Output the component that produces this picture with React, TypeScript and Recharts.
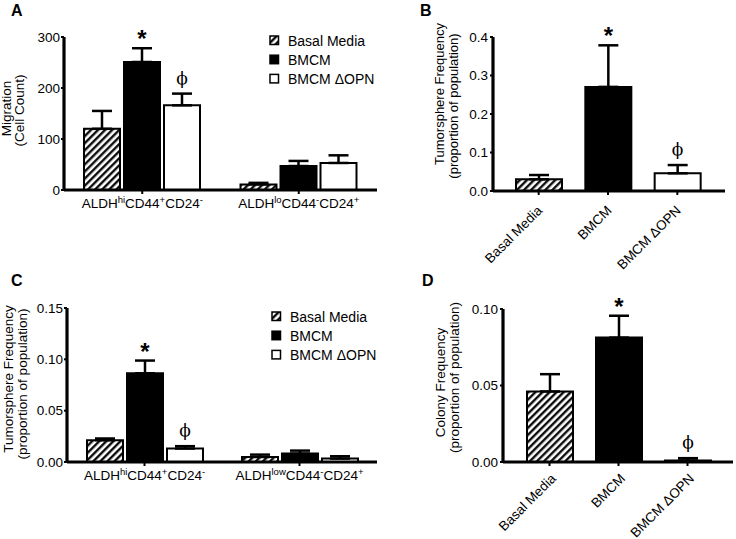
import React from 'react';
import { BarChart, Bar, XAxis, YAxis, ErrorBar, LabelList, Legend, Cell } from 'recharts';

const sans = '"Liberation Sans", Arial, Helvetica, sans-serif';
const serif = '"DejaVu Serif", "Liberation Serif", serif';

const seriesNames = ['Basal Media', 'BMCM', 'BMCM ΔOPN'];

// A: migration by sub-population
const migrationGroups = [
  [['ALDH', 'hi'], ['CD44', '+'], ['CD24', '-']],
  [['ALDH', 'lo'], ['CD44', '-'], ['CD24', '+']],
];
const migrationBasal = [120, 11];
const migrationBasalErr = [35, 3];
const migrationBmcm = [251, 47];
const migrationBmcmErr = [27, 10];
const migrationBmcmMarks = ['*', ''];
const migrationDopn = [166, 53];
const migrationDopnErr = [23, 15];
const migrationDopnMarks = ['ϕ', ''];
const migrationTicks = [0, 100, 200, 300];

// B: tumorsphere frequency, whole population
const treatments = ['Basal Media', 'BMCM', 'BMCM ΔOPN'];
const sphereTotal = [0.0303, 0.2704, 0.0459];
const sphereTotalErr = [0.0112, 0.108, 0.0215];
const sphereTotalMarks = ['', '*', 'ϕ'];
const sphereTotalTicks = [0, 0.1, 0.2, 0.3, 0.4];

// C: tumorsphere frequency by sub-population
const sphereGroups = [
  [['ALDH', 'hi'], ['CD44', '+'], ['CD24', '-']],
  [['ALDH', 'low'], ['CD44', '-'], ['CD24', '+']],
];
const sphereBasal = [0.0212, 0.0049];
const sphereBasalErr = [0.0017, 0.0023];
const sphereBmcm = [0.0864, 0.0082];
const sphereBmcmErr = [0.0124, 0.0029];
const sphereBmcmMarks = ['*', ''];
const sphereDopn = [0.0131, 0.0033];
const sphereDopnErr = [0.0023, 0.0023];
const sphereDopnMarks = ['ϕ', ''];
const sphereTicks = [0, 0.05, 0.1, 0.15];

// D: colony frequency
const colony = [0.0461, 0.0813, 0.001];
const colonyErr = [0.0113, 0.0143, 0.0015];
const colonyMarks = ['', '*', 'ϕ'];
const colonyTicks = [0, 0.05, 0.1];

const fillsFor = (hatch: string) => [`url(#${hatch})`, '#000', '#fff'];

const migrationRows = migrationGroups.map((_, i) => ({
  key: 'g' + i,
  basal: migrationBasal[i],
  basalErr: [0, migrationBasalErr[i]],
  bmcm: migrationBmcm[i],
  bmcmErr: [0, migrationBmcmErr[i]],
  dopn: migrationDopn[i],
  dopnErr: [0, migrationDopnErr[i]],
}));

const sphereRows = sphereGroups.map((_, i) => ({
  key: 'g' + i,
  basal: sphereBasal[i],
  basalErr: [0, sphereBasalErr[i]],
  bmcm: sphereBmcm[i],
  bmcmErr: [0, sphereBmcmErr[i]],
  dopn: sphereDopn[i],
  dopnErr: [0, sphereDopnErr[i]],
}));

const sphereTotalRows = treatments.map((name, i) => ({
  name,
  value: sphereTotal[i],
  err: [0, sphereTotalErr[i]],
}));

const colonyRows = treatments.map((name, i) => ({
  name,
  value: colony[i],
  err: [0, colonyErr[i]],
}));

function Hatch({ id }: { id: string }) {
  return (
    <defs>
      <pattern id={id} patternUnits="userSpaceOnUse" width={5} height={5} patternTransform="rotate(45)">
        <rect width={5} height={5} fill="#fff" />
        <line x1={1.25} y1={0} x2={1.25} y2={5} stroke="#000" strokeWidth={2.3} />
      </pattern>
    </defs>
  );
}

// star / phi drawn just above the top of the error bar
function markLabel(values: number[], errs: number[], marks: string[]) {
  return (props: any) => {
    const vb = props.viewBox || props;
    const i = props.index;
    const m = marks[i];
    if (!m) return null;
    const unit = vb.height / values[i];
    const top = vb.y - errs[i] * unit;
    const star = m === '*';
    return (
      <text
        x={vb.x + vb.width / 2}
        y={star ? top - 1 : top - 10}
        textAnchor="middle"
        fontFamily={star ? sans : serif}
        fontWeight={star ? 700 : 400}
        fontSize={star ? 24 : 17}
        fill="#000"
      >
        {m}
      </text>
    );
  };
}

function groupTick(groups: string[][][]) {
  return (props: any) => {
    const { x, y, payload } = props;
    const segs = groups[payload.index] || [];
    return (
      <text x={x} y={y + 12} textAnchor="middle" fontSize={13.5} fontFamily={sans} fill="#000" stroke="none">
        {segs.flatMap(([base, sup], i) => [
          <tspan key={'b' + i} dy={i === 0 ? 0 : 5}>{base}</tspan>,
          <tspan key={'s' + i} dy={-5} fontSize={9.5}>{sup}</tspan>,
        ])}
      </text>
    );
  };
}

function slantTick(shiftX: number, shiftY: number) {
  return (props: any) => {
    const { x, y, payload } = props;
    const ox = x + shiftX;
    const oy = y + shiftY;
    return (
      <text
        x={ox}
        y={oy}
        dy="0.35em"
        transform={`rotate(-45, ${ox}, ${oy})`}
        textAnchor="end"
        fontSize={13.5}
        fontFamily={sans}
        fill="#000"
        stroke="none"
      >
        {payload.value}
      </text>
    );
  };
}

function yTitle(lines: string[], xs: number[], dys: number[], size: number) {
  return (props: any) => {
    const vb = props.viewBox;
    return (
      <g>
        {lines.map((t, i) => {
          const cx = vb.x + xs[i];
          const cy = vb.y + vb.height / 2 + dys[i];
          return (
            <text
              key={i}
              x={cx}
              y={cy}
              transform={`rotate(-90, ${cx}, ${cy})`}
              textAnchor="middle"
              dominantBaseline="central"
              fontSize={size}
              fontFamily={sans}
              fill="#000"
              stroke="none"
            >
              {t}
            </text>
          );
        })}
      </g>
    );
  };
}

function legendBox(hatch: string) {
  const fills = fillsFor(hatch);
  return () => (
    <svg width={110} height={60} style={{ display: 'block', overflow: 'visible' }}>
      {seriesNames.map((n, i) => (
        <g key={n}>
          <rect x={1} y={i * 19.2 + 1} width={8.5} height={8.5} fill={fills[i]} stroke="#000" strokeWidth={1.5} />
          <text x={19} y={i * 19.2 + 10.5} fontSize={14} fontFamily={sans} fill="#000">
            {n}
          </text>
        </g>
      ))}
    </svg>
  );
}

const axisLine = { stroke: '#000', strokeWidth: 3.2 };
const tickLine = { stroke: '#000', strokeWidth: 2 };
const yTick = { fontSize: 13.5, fontFamily: sans, fill: '#000', stroke: 'none' };

function GroupedPanel(props: {
  rows: any[];
  groups: string[][][];
  hatch: string;
  height: number;
  top: number;
  bottom: number;
  yWidth: number;
  domain: [number, number];
  ticks: number[];
  fmt: (v: number) => string;
  title: any;
  legendPos: { left: number; top: number };
  bmcm: [number[], number[], string[]];
  dopn: [number[], number[], string[]];
}) {
  const fills = fillsFor(props.hatch);
  return (
    <BarChart
      width={380}
      height={props.height}
      data={props.rows}
      margin={{ top: props.top, right: 3, bottom: props.bottom, left: 0 }}
      barSize={36}
      barGap={4}
    >
      <Hatch id={props.hatch} />
      <XAxis
        dataKey="key"
        height={30}
        stroke="#000"
        strokeWidth={3.2}
        axisLine={axisLine}
        tickLine={tickLine}
        tickSize={4}
        tick={groupTick(props.groups)}
        interval={0}
      />
      <YAxis
        width={props.yWidth}
        domain={props.domain}
        ticks={props.ticks}
        interval={0}
        tickFormatter={props.fmt}
        stroke="#000"
        strokeWidth={3.2}
        axisLine={axisLine}
        tickLine={tickLine}
        tickSize={3}
        tickMargin={1}
        tick={yTick}
        label={props.title}
      />
      <Legend
        layout="vertical"
        align="center"
        verticalAlign="middle"
        content={legendBox(props.hatch)}
        wrapperStyle={{ left: props.legendPos.left, top: props.legendPos.top, width: 110 }}
      />
      <Bar dataKey="basal" name={seriesNames[0]} fill={fills[0]} stroke="#000" strokeWidth={2} isAnimationActive={false}>
        <ErrorBar dataKey="basalErr" direction="y" width={10} stroke="#000" strokeWidth={2.5} />
      </Bar>
      <Bar dataKey="bmcm" name={seriesNames[1]} fill={fills[1]} stroke="#000" strokeWidth={2} isAnimationActive={false}>
        <ErrorBar dataKey="bmcmErr" direction="y" width={10} stroke="#000" strokeWidth={2.5} />
        <LabelList dataKey="bmcm" content={markLabel(...props.bmcm)} />
      </Bar>
      <Bar dataKey="dopn" name={seriesNames[2]} fill={fills[2]} stroke="#000" strokeWidth={2} isAnimationActive={false}>
        <ErrorBar dataKey="dopnErr" direction="y" width={10} stroke="#000" strokeWidth={2.5} />
        <LabelList dataKey="dopn" content={markLabel(...props.dopn)} />
      </Bar>
    </BarChart>
  );
}

function SinglePanel(props: {
  rows: any[];
  values: number[];
  errs: number[];
  marks: string[];
  hatch: string;
  height: number;
  top: number;
  right: number;
  bottom: number;
  yWidth: number;
  pad: { left: number; right: number };
  tickShift: [number, number];
  domain: [number, number];
  ticks: number[];
  fmt: (v: number) => string;
  title: any;
}) {
  const fills = fillsFor(props.hatch);
  return (
    <BarChart
      width={356}
      height={props.height}
      data={props.rows}
      margin={{ top: props.top, right: props.right, bottom: props.bottom, left: 0 }}
      barSize={46}
    >
      <Hatch id={props.hatch} />
      <XAxis
        dataKey="name"
        height={75}
        padding={props.pad}
        stroke="#000"
        strokeWidth={3.2}
        axisLine={axisLine}
        tickLine={tickLine}
        tickSize={4}
        tick={slantTick(...props.tickShift)}
        interval={0}
      />
      <YAxis
        width={props.yWidth}
        domain={props.domain}
        ticks={props.ticks}
        interval={0}
        tickFormatter={props.fmt}
        stroke="#000"
        strokeWidth={3.2}
        axisLine={axisLine}
        tickLine={tickLine}
        tickSize={3}
        tickMargin={2}
        tick={yTick}
        label={props.title}
      />
      <Bar dataKey="value" stroke="#000" strokeWidth={2} isAnimationActive={false}>
        {props.rows.map((r, i) => (
          <Cell key={r.name} fill={fills[i]} />
        ))}
        <ErrorBar dataKey="err" direction="y" width={10} stroke="#000" strokeWidth={2.5} />
        <LabelList dataKey="value" content={markLabel(props.values, props.errs, props.marks)} />
      </Bar>
    </BarChart>
  );
}

const panelLetters = [
  { t: 'A', x: 11, y: 16 },
  { t: 'B', x: 420, y: 16 },
  { t: 'C', x: 11, y: 286 },
  { t: 'D', x: 422, y: 286 },
];

export default function App() {
  return (
    <div style={{ position: 'absolute', left: 0, top: 0, width: 736, height: 539, background: '#fff', overflow: 'hidden' }}>
      <div style={{ position: 'absolute', left: 0, top: 0 }}>
        <GroupedPanel
          rows={migrationRows}
          groups={migrationGroups}
          hatch="hatchA"
          height={270}
          top={37}
          bottom={50}
          yWidth={64}
          domain={[0, 300]}
          ticks={migrationTicks}
          fmt={(v) => String(v)}
          title={yTitle(['Migration', '(Cell Count)'], [6, 19], [-5, -3], 13.5)}
          legendPos={{ left: 269, top: 35 }}
          bmcm={[migrationBmcm, migrationBmcmErr, migrationBmcmMarks]}
          dopn={[migrationDopn, migrationDopnErr, migrationDopnMarks]}
        />
      </div>
      <div style={{ position: 'absolute', left: 380, top: 0 }}>
        <SinglePanel
          rows={sphereTotalRows}
          values={sphereTotal}
          errs={sphereTotalErr}
          marks={sphereTotalMarks}
          hatch="hatchB"
          height={292}
          top={37}
          right={11}
          bottom={26}
          yWidth={113}
          pad={{ left: 11, right: 13 }}
          tickShift={[1, 11]}
          domain={[0, 0.4]}
          ticks={sphereTotalTicks}
          fmt={(v) => v.toFixed(1)}
          title={yTitle(['Tumorsphere Frequency', '(proportion of population)'], [59, 73], [-20, -8], 13)}
        />
      </div>
      <div style={{ position: 'absolute', left: 0, top: 270 }}>
        <GroupedPanel
          rows={sphereRows}
          groups={sphereGroups}
          hatch="hatchC"
          height={269}
          top={38}
          bottom={47}
          yWidth={67}
          domain={[0, 0.15]}
          ticks={sphereTicks}
          fmt={(v) => v.toFixed(2)}
          title={yTitle(['Tumorsphere Frequency', '(proportion of population)'], [8, 22.5], [-6, -1], 13.5)}
          legendPos={{ left: 270.5, top: 41 }}
          bmcm={[sphereBmcm, sphereBmcmErr, sphereBmcmMarks]}
          dopn={[sphereDopn, sphereDopnErr, sphereDopnMarks]}
        />
      </div>
      <div style={{ position: 'absolute', left: 380, top: 270 }}>
        <SinglePanel
          rows={colonyRows}
          values={colony}
          errs={colonyErr}
          marks={colonyMarks}
          hatch="hatchD"
          height={280}
          top={39}
          right={3}
          bottom={13}
          yWidth={123}
          pad={{ left: 12, right: 11 }}
          tickShift={[4, 8]}
          domain={[0, 0.1]}
          ticks={colonyTicks}
          fmt={(v) => v.toFixed(2)}
          title={yTitle(['Colony Frequency', '(proportion of population)'], [60, 74], [-3, -8], 13.5)}
        />
      </div>
      <svg width={736} height={539} style={{ position: 'absolute', left: 0, top: 0, pointerEvents: 'none' }}>
        {panelLetters.map((p) => (
          <text key={p.t} x={p.x} y={p.y} fontSize={16} fontWeight={700} fontFamily={sans} fill="#000">
            {p.t}
          </text>
        ))}
      </svg>
    </div>
  );
}
